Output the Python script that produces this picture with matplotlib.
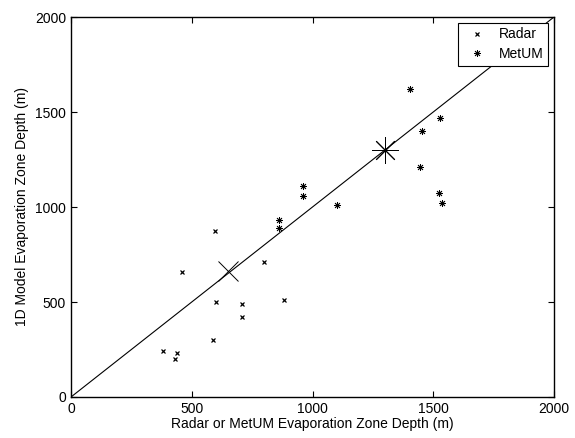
import numpy as np
import matplotlib
matplotlib.use("Agg")
import matplotlib.pyplot as plt

plt.rcParams['font.family'] = ['Liberation Sans', 'DejaVu Sans']

# Radar evaporation zone depths (m): observed vs 1D model
radar_obs = [380, 440, 430, 460, 590, 595, 600, 710, 710, 800, 880]
radar_mod = [243, 233, 198, 658, 299, 875, 499, 490, 420, 710, 509]

# MetUM evaporation zone depths (m)
metum_obs = [860, 860, 960, 960, 1100, 1405, 1530, 1455, 1445, 1525, 1535]
metum_mod = [929, 889, 1111, 1060, 1010, 1620, 1470, 1400, 1210, 1075, 1020]

# large markers (group centres)
radar_centre = (650, 665)
metum_centre = (1300, 1300)

ticks = [0, 500, 1000, 1500, 2000]
asterisk = (8, 2, 0)  # matlab-style '*'

fig = plt.figure(figsize=(5.75, 4.38), dpi=100)
ax = fig.add_axes([71/575, 41/438, 483/575, 380/438])

ax.plot([0, 2000], [0, 2000], color='black', linewidth=0.8)
ax.plot(radar_obs, radar_mod, 'x', color='black', markersize=3.5,
        markeredgewidth=0.9, label='Radar')
ax.plot(metum_obs, metum_mod, marker=asterisk, linestyle='none', color='black',
        markersize=5, markeredgewidth=0.6, label='MetUM')
ax.plot([radar_centre[0]], [radar_centre[1]], 'x', color='black',
        markersize=14, markeredgewidth=0.7)
ax.plot([metum_centre[0]], [metum_centre[1]], marker=asterisk, color='black',
        markersize=19, markeredgewidth=0.7, linestyle='none')

ax.set_xlim(0, 2000)
ax.set_ylim(0, 2000)
ax.set_xticks(ticks)
ax.set_yticks(ticks)
ax.tick_params(direction='in', top=True, right=True, length=4, labelsize=10,
               width=0.8)
for s in ax.spines.values():
    s.set_linewidth(1.0)

ax.set_xlabel("Radar or MetUM Evaporation Zone Depth (m)", fontsize=10,
              labelpad=1)
ax.set_ylabel("1D Model Evaporation Zone Depth (m)", fontsize=10, labelpad=4)

leg = ax.legend(loc='upper right', fontsize=10, fancybox=False,
                framealpha=1, edgecolor='black', borderaxespad=0.4,
                handlelength=2.0, handletextpad=0.6, borderpad=0.35,
                labelspacing=0.4)
leg.get_frame().set_linewidth(0.8)

fig.savefig("out.png", dpi=100)
